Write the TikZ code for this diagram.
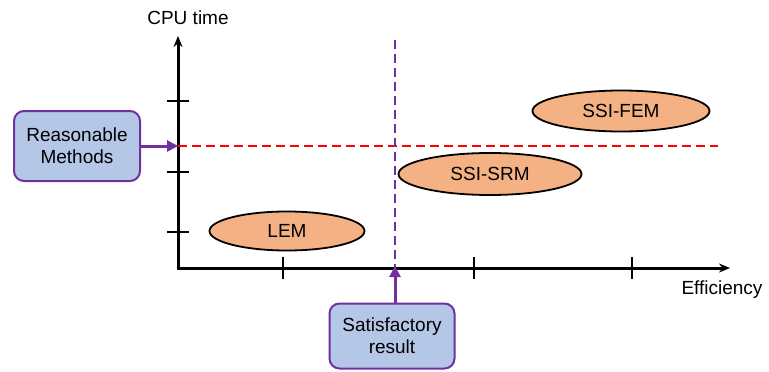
\documentclass[tikz,border=0pt]{standalone}
\usepackage{fontspec}
\setmainfont{Liberation Sans}
\usetikzlibrary{shapes.geometric,arrows.meta}
\definecolor{boxblue}{HTML}{B4C7E7}
\definecolor{boxpurple}{HTML}{7030A0}
\definecolor{ellorange}{HTML}{F4B183}
\definecolor{dashred}{HTML}{FF0000}
\tikzset{
  txt/.style={font=\fontsize{19}{22}\selectfont},
  callout/.style={txt, draw=boxpurple, line width=2pt, fill=boxblue, rounded corners=10pt, align=center, inner sep=0pt},
  method/.style={txt, ellipse, draw=black, line width=1.8pt, fill=ellorange, inner sep=0pt},
  axis/.style={line width=3pt, -{Stealth[length=11pt,width=9pt]}},
  tick/.style={line width=2.5pt},
  pointer/.style={draw=boxpurple, line width=3pt, -{Triangle[length=11pt,width=11pt]}},
}
\begin{document}
\begin{tikzpicture}[x=1pt,y=-1pt]
\useasboundingbox (0,0) rectangle (769,372);
% axes
\coordinate (O) at (178,268);
\coordinate (Ytop) at (178,36);
\coordinate (Xend) at (730,268);
\draw[axis] ([yshift=1.5pt]O) -- (Ytop);
\draw[axis] ([xshift=-1.5pt]O) -- (Xend);
\node[txt, anchor=center] (cpu) at (188,18) {CPU time};
\node[txt, anchor=center] (eff) at (722,290) {Efficiency};
% ticks
\foreach \y in {101,172,232} \draw[tick] (167,\y) -- (189,\y);
\foreach \x in {283,474,632} \draw[tick] (\x,257) -- (\x,279);
% dashed lines
\coordinate (R1) at (178,146);
\coordinate (R2) at (718,146);
\draw[dashred, line width=2pt, dash pattern=on 9pt off 5pt] (R1) -- (R2);
\coordinate (V1) at (395,40);
\coordinate (V2) at (395,268);
\draw[boxpurple, line width=2pt, dash pattern=on 9pt off 5pt] (V1) -- (V2);
% ellipses
\node[method, minimum width=155pt, minimum height=39pt] (lem) at (287,231) {LEM};
\node[method, minimum width=183pt, minimum height=42pt] (srm) at (490,174) {SSI-SRM};
\node[method, minimum width=177pt, minimum height=41pt] (fem) at (621,111) {SSI-FEM};
% callouts
\node[callout, minimum width=126pt, minimum height=70pt] (rm) at (77,146) {Reasonable\\Methods};
\node[callout, minimum width=125pt, minimum height=65pt] (sr) at (392,336) {Satisfactory\\result};
\draw[pointer] (rm.east) -- (R1);
\draw[pointer] (sr.north -| V2) -- ([yshift=2pt]V2);
\end{tikzpicture}
\end{document}
